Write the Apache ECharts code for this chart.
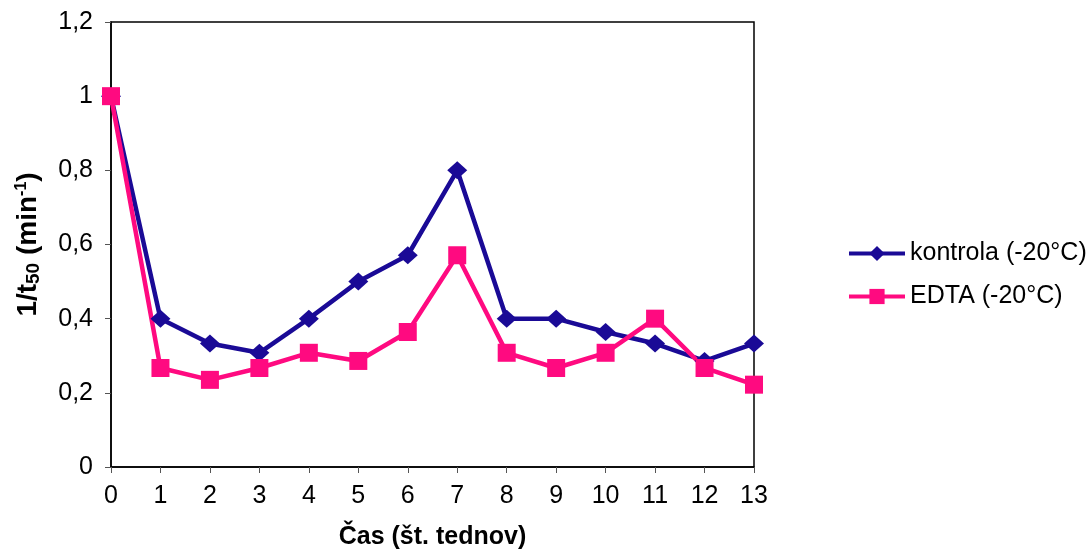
<!DOCTYPE html>
<html><head><meta charset="utf-8">
<script src="https://cdn.jsdelivr.net/npm/echarts@6/dist/echarts.min.js"></script>
<style>html,body{margin:0;padding:0;background:#fff}#c{width:1089px;height:556px}</style>
</head><body><div id="c"></div>
<script>
const weeks = [0,1,2,3,4,5,6,7,8,9,10,11,12,13];
const kontrola = [1,0.4,0.333,0.308,0.4,0.5,0.571,0.8,0.4,0.4,0.364,0.333,0.286,0.333];
const edta = [1,0.267,0.235,0.267,0.308,0.286,0.364,0.571,0.308,0.267,0.308,0.4,0.267,0.222];
const seriesNames = ['kontrola (-20°C)','EDTA (-20°C)'];
const font = 'Liberation Sans, Arial, sans-serif';
const navy = '#1a0a96', pink = '#ff0a80';
const chart = echarts.init(document.getElementById('c'));
chart.setOption({
  animation:false,
  textStyle:{fontFamily:font},
  grid:{left:111,right:335,top:22,bottom:89,show:true,borderColor:'#000',borderWidth:1.5},
  legend:{orient:'vertical',left:842,top:236,itemWidth:56,itemHeight:19,itemGap:18,
    lineStyle:{width:4},
    textStyle:{fontSize:25,color:'#000',fontFamily:font},
    data:seriesNames},
  xAxis:{type:'value',min:0,max:13,interval:1,
    name:'Čas (št. tednov)',nameLocation:'middle',nameGap:58,
    nameTextStyle:{fontSize:25,fontWeight:'bold',color:'#000',fontFamily:font},
    axisLine:{lineStyle:{color:'#000',width:1.5}},
    axisTick:{show:true,length:6,lineStyle:{color:'#555'}},
    axisLabel:{fontSize:25,color:'#000',margin:17,fontFamily:font},
    splitLine:{show:false}},
  yAxis:{type:'value',min:0,max:1.2,interval:0.2,
    name:'{a|1/t}{s|50}{a| (min}{p|-1}{a|)}',nameLocation:'middle',nameGap:68,nameRotate:90,
    nameTextStyle:{fontSize:28,fontWeight:'bold',color:'#000',fontFamily:font,
      rich:{a:{fontSize:28,fontWeight:'bold',color:'#000',fontFamily:font},
            s:{fontSize:19,fontWeight:'bold',color:'#000',fontFamily:font,padding:[11,0,0,0]},
            p:{fontSize:16,fontWeight:'bold',color:'#000',fontFamily:font,padding:[0,0,13,0]}}},
    axisLine:{show:true,lineStyle:{color:'#000',width:1.5}},
    axisTick:{show:true,length:6,lineStyle:{color:'#555'}},
    axisLabel:{fontSize:25,color:'#000',margin:18,fontFamily:font,
      formatter:v=>String(Math.round(v*10)/10).replace('.',',')},
    splitLine:{show:false}},
  series:[
    {name:seriesNames[0],type:'line',data:weeks.map((w,i)=>[w,kontrola[i]]),
     symbol:'diamond',symbolSize:[20,18],color:navy,lineStyle:{width:4.5,color:navy},
     itemStyle:{color:navy}},
    {name:seriesNames[1],type:'line',data:weeks.map((w,i)=>[w,edta[i]]),
     symbol:'rect',symbolSize:18,color:pink,lineStyle:{width:4.5,color:pink},
     itemStyle:{color:pink}}
  ]
});
</script></body></html>
